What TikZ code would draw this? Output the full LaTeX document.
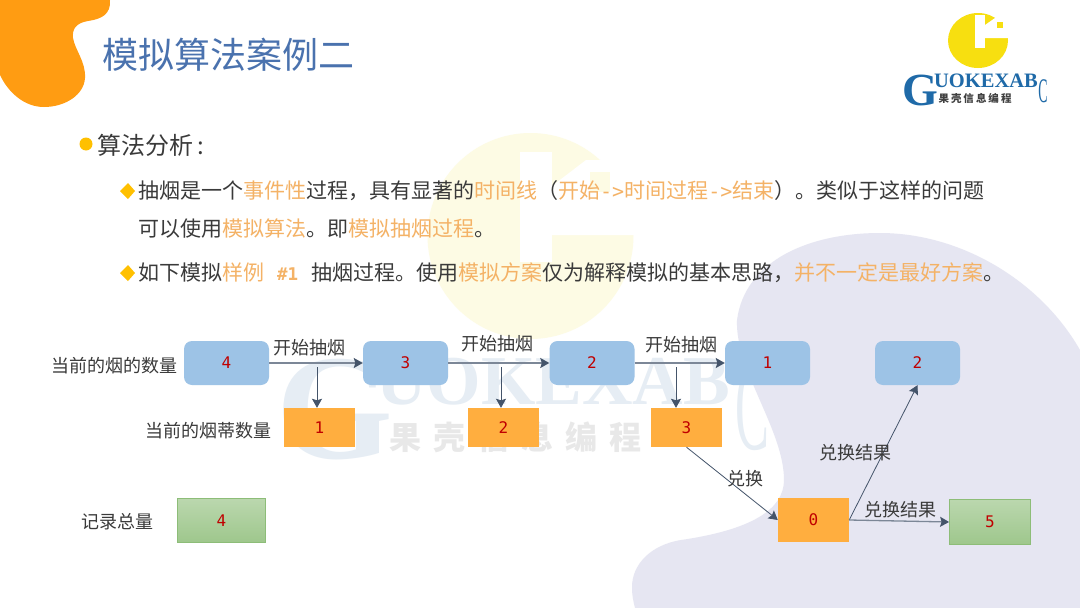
\documentclass[tikz,border=0pt]{standalone}
\usepackage{fontspec}
\setmainfont{Noto Sans CJK SC}
\newfontfamily\monofnt{DejaVu Sans Mono}
\newfontfamily\logofnt{Liberation Serif}
\usetikzlibrary{arrows.meta}
\definecolor{titleblue}{HTML}{4A72AE}
\definecolor{bodytxt}{HTML}{3A3A3A}
\definecolor{hl}{HTML}{F4B266}
\definecolor{blobor}{HTML}{FF9C12}
\definecolor{lav}{HTML}{E6E6F2}
\definecolor{boxblue}{HTML}{9DC3E6}
\definecolor{boxor}{HTML}{FFAE3F}
\definecolor{grline}{HTML}{8DBD78}
\definecolor{numred}{HTML}{C00000}
\definecolor{arrowc}{HTML}{44546A}
\definecolor{wmyellow}{HTML}{FDFBE4}
\definecolor{wmblue}{HTML}{E6EDF4}
\definecolor{wmgray}{HTML}{E8E8E8}
\definecolor{logoy}{HTML}{F7DF10}
\definecolor{logob}{HTML}{1F6AA8}
\definecolor{bullet}{HTML}{FFC000}
\newcommand{\hlt}[1]{\textcolor{hl}{#1}}
\newcommand{\arr}{{\monofnt\fontsize{20}{20}\selectfont ->}}
\newcommand{\fwcomma}{\char"FF0C\relax}
\newcommand{\fwopen}{\char"FF08\relax}
\newcommand{\fwclose}{\char"FF09\relax}
\tikzset{
  x=1pt,y=-1pt,
  num/.style={font=\monofnt\fontsize{16}{16}\selectfont,text=numred},
  bluebox/.style={draw=none,fill=boxblue,rounded corners=8pt,minimum width=85pt,minimum height=44pt,inner sep=0pt,num},
  orbox/.style={draw=none,fill=boxor,minimum width=71pt,minimum height=39pt,inner sep=0pt,num},
  grbox/.style={draw=grline,line width=0.8pt,top color=grline!60!white,bottom color=grline!85!white,inner sep=0pt,num},
  lab/.style={font=\fontsize{18}{18}\selectfont,text=bodytxt,inner sep=0pt},
  body/.style={font=\fontsize{21}{21}\selectfont,text=bodytxt,inner sep=0pt,anchor=west},
  harrow/.style={draw=arrowc!70!white,line width=1.3pt,-{Stealth[length=9pt,width=10pt,inset=1.5pt,color=arrowc]}},
  varrow/.style={draw=arrowc,line width=0.8pt,-{Stealth[length=9pt,width=10pt,inset=1.5pt,color=arrowc]}},
}
\begin{document}
\begin{tikzpicture}
\useasboundingbox (0,0) rectangle (1080,608);
\fill[white] (0,0) rectangle (1080,608);
% watermark yellow logo
\fill[wmyellow] (530.5,236) ellipse[x radius=103,y radius=103];
\fill[white] (520,152) rectangle (552,262);
\fill[white] (552,186) -- (586,160) -- (640,160) -- (640,235) -- (552,235) -- cycle;
\fill[wmyellow] (590,172) rectangle (610,192);
% watermark logo text
\node[inner sep=0pt,text=wmblue,font=\logofnt\bfseries\fontsize{150}{150}\selectfont] (wmG) at (335,410) {G};
\node[inner sep=0pt,text=wmblue,font=\logofnt\bfseries\fontsize{70}{70}\selectfont] (wmT) at (553,382) {UOKEXAB};
\node[inner sep=0pt,text=wmblue,font=\logofnt\fontsize{82}{82}\selectfont,xscale=.62,yscale=1.5] (wmC) at (752,409) {C};
\node[inner sep=0pt,text=wmgray,font=\bfseries\fontsize{32}{32}\selectfont] (wmZ) at (515,437) {果\hspace{12pt}壳\hspace{12pt}信\hspace{12pt}息\hspace{12pt}编\hspace{12pt}程};
% lavender blob
\fill[lav] (1080,350) .. controls (1040,280) and (960,233) .. (880,233)
  .. controls (810,233) and (745,260) .. (737,320)
  .. controls (735,370) and (784,430) .. (784,480)
  .. controls (784,510) and (750,530) .. (681,540)
  .. controls (650,545) and (632,565) .. (632,587)
  .. controls (632,595) and (633,600) .. (635,608) -- (1080,608) -- cycle;
% orange blob
\fill[blobor] (0,0) -- (110,0) .. controls (111,14) and (102,19) .. (88,21)
  .. controls (76,23) and (72,29) .. (73,38)
  .. controls (75,50) and (86,62) .. (85,78)
  .. controls (84,95) and (65,107) .. (44,107)
  .. controls (24,107) and (8,92) .. (0,75) -- cycle;
% title
\node[inner sep=0pt,anchor=west,text=titleblue,font=\fontsize{36}{36}\selectfont] (title) at (102,55) {模拟算法案例二};
% logo
\fill[logoy] (978,40.5) ellipse[x radius=30,y radius=27.5];
\fill[white] (975,15) rectangle (985,48);
\fill[white] (985,25) -- (995,18) -- (1012,18) -- (1012,38) -- (985,38) -- cycle;
\fill[logoy] (997,22) rectangle (1003,28);
\node[inner sep=0pt,text=logob,font=\logofnt\bfseries\fontsize{46}{46}\selectfont] (lgG) at (920,90) {G};
\node[inner sep=0pt,text=logob,font=\logofnt\bfseries\fontsize{20.5}{20.5}\selectfont] (lgT) at (986,81) {UOKEXAB};
\node[inner sep=0pt,text=logob,font=\logofnt\fontsize{23}{23}\selectfont,xscale=.6,yscale=1.5] (lgC) at (1043,91) {C};
\node[inner sep=0pt,text=black!75,font=\bfseries\fontsize{10.5}{11}\selectfont] (lgZ) at (975,99) {果\hspace{2pt}壳\hspace{2pt}信\hspace{2pt}息\hspace{2pt}编\hspace{2pt}程};
% bullets
\fill[bullet] (86,144) circle (6.5pt);
\node[body,font=\fontsize{24}{24}\selectfont] (t0) at (97,145) {算法分析\,:};
\fill[bullet] (128,183) -- (135,191) -- (128,199) -- (120,191) -- cycle;
\node[body] (t1) at (138,191) {抽烟是一个\hlt{事件性}过程\fwcomma 具有显著的\hlt{时间线}\fwopen\hlt{开始\arr 时间过程\arr 结束}\fwclose 。类似于这样的问题};
\node[body] (t2) at (138,229) {可以使用\hlt{模拟算法}。即\hlt{模拟抽烟过程}。};
\fill[bullet] (128,265) -- (135,273) -- (128,281) -- (120,273) -- cycle;
\node[body] (t3) at (138,273) {如下模拟\hlt{样例\hspace{13pt}{\monofnt\bfseries\fontsize{17.5}{18}\selectfont \#1}}\hspace{13pt}抽烟过程。使用\hlt{模拟方案}仅为解释模拟的基本思路\fwcomma\hlt{并不一定是最好方案}。};
% row labels
\node[lab,anchor=east] (l1) at (178,366) {当前的烟的数量};
\node[lab,anchor=east] (l2) at (272,431) {当前的烟蒂数量};
\node[lab,anchor=east] (l3) at (154,522) {记录总量};
% boxes
\node[bluebox] (b4) at (226.5,363) {4};
\node[bluebox] (b3) at (405.5,363) {3};
\node[bluebox] (b2) at (592,363) {2};
\node[bluebox] (b1) at (767.5,363) {1};
\node[bluebox] (b2n) at (917.5,363) {2};
\node[orbox] (o1) at (319.5,427.5) {1};
\node[orbox] (o2) at (503.5,427.5) {2};
\node[orbox] (o3) at (686.5,427.5) {3};
\node[orbox,minimum height=44pt] (o0) at (813.5,520) {0};
\node[grbox,minimum width=88pt,minimum height=44pt] (g4) at (221.5,520.5) {4};
\node[grbox,minimum width=81pt,minimum height=45pt] (g5) at (990,522) {5};
% connectors
\draw[harrow] (b4.east) -- (b3.west);
\draw[harrow] (b3.east) -- (b2.west);
\draw[harrow] (b2.east) -- (b1.west);
\coordinate (v1) at (317,367);
\coordinate (v2) at (501,367);
\coordinate (v3) at (676,367);
\draw[varrow] (v1) -- (v1 |- o1.north);
\draw[varrow] (v2) -- (v2 |- o2.north);
\draw[varrow] (v3) -- (v3 |- o3.north);
\draw[varrow] (o3.south) -- (o0.west);
\draw[varrow] (o0.east) -- (b2n.south);
\draw[harrow] (o0.east) -- (g5.west);
% connector labels
\node[lab] (a1) at (309,348) {开始抽烟};
\node[lab] (a2) at (497,344) {开始抽烟};
\node[lab] (a3) at (681,345) {开始抽烟};
\node[lab] (a4) at (745,479) {兑换};
\node[lab] (a5) at (855,453) {兑换结果};
\node[lab] (a6) at (900,510) {兑换结果};
\end{tikzpicture}
\end{document}
